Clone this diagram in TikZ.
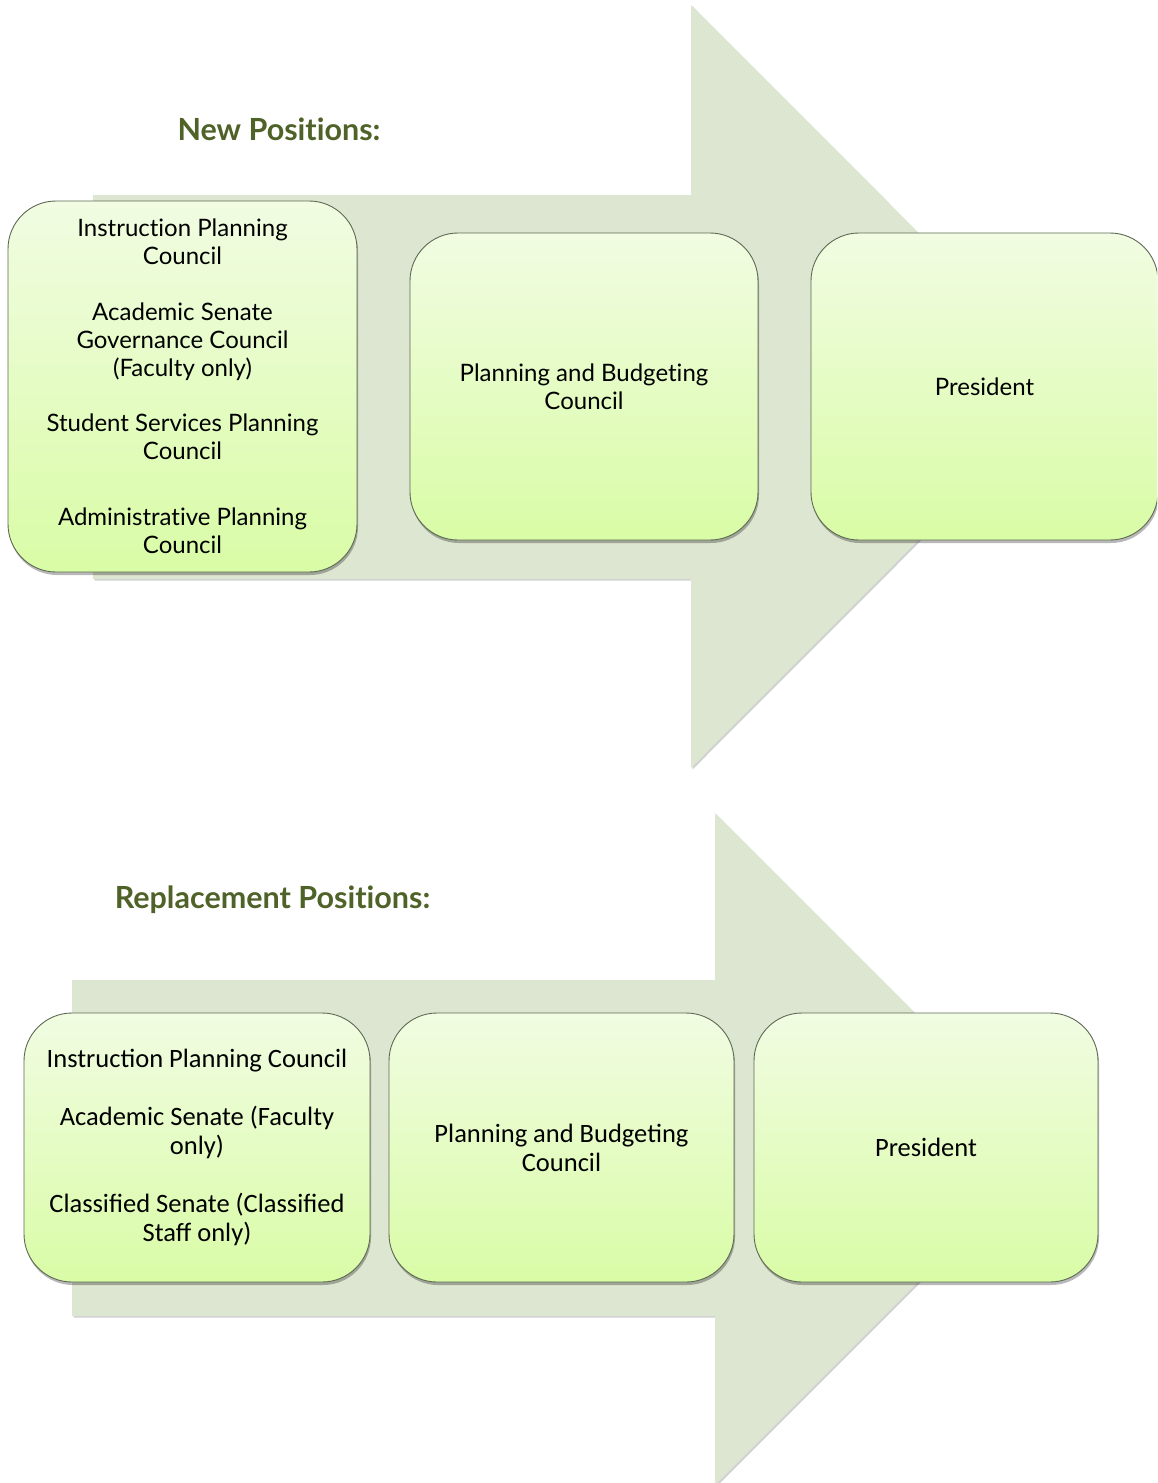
\documentclass[tikz,border=0pt]{standalone}
\usepackage{fontspec}
\setmainfont{Lato}[Ligatures=NoCommon]
\newfontfamily\calib{Carlito}
\usetikzlibrary{shadows}
\definecolor{arrowfill}{RGB}{221,230,208}
\definecolor{boxtop}{RGB}{241,252,226}
\definecolor{boxbot}{RGB}{217,252,166}
\definecolor{boxline}{RGB}{95,105,85}
\definecolor{titlegreen}{RGB}{79,98,40}
\begin{document}
\begin{tikzpicture}[x=1pt,y=-1pt,
  bigarrow/.style={fill=arrowfill, draw=none, drop shadow={shadow xshift=1.5pt, shadow yshift=-1.5pt, opacity=0.18, fill=black}},
  box/.style={draw=boxline, line width=0.9pt, rounded corners=48pt, top color=boxtop, bottom color=boxbot,
    align=center, inner sep=0pt, text=black,
    drop shadow={shadow xshift=1pt, shadow yshift=-3pt, opacity=0.28, fill=black}},
  gill/.style={font=\fontsize{24}{28}\selectfont},
  cal/.style={font=\calib\fontsize{26.5}{29}\selectfont},
  title/.style={text=titlegreen, font=\bfseries\fontsize{30.5}{34}\selectfont, inner sep=0pt}]
\useasboundingbox (0,0) rectangle (1157,1483);
\clip (0,0) rectangle (1157,1483);
\fill[white] (0,0) rectangle (1157,1483);

% ---- upper arrow ----
\path[bigarrow] (93,195) -- (691,195) -- (691,5) -- (1072,386.5) -- (691,768) -- (691,579) -- (93,579) -- cycle;
\node[title] (t1) at (279,129) {New Positions:};
\node[box, gill, minimum width=349pt, minimum height=371pt] (a1) at (182.5,386.5)
  {Instruction Planning\\Council\\[28pt]Academic Senate\\Governance Council\\(Faculty only)\\[27pt]Student Services Planning\\Council\\[38pt]Administrative Planning\\Council};
\node[box, gill, minimum width=348pt, minimum height=307pt] (a2) at (584,386.5) {Planning and Budgeting\\Council};
\node[box, gill, minimum width=347pt, minimum height=307pt] (a3) at (984.5,386.5) {President};

% ---- lower arrow ----
\path[bigarrow] (72,980) -- (715,980) -- (715,813) -- (1051,1149) -- (715,1485) -- (715,1316) -- (72,1316) -- cycle;
\node[title] (t2) at (272.5,900) {Replacement Positions:};
\node[box, cal, minimum width=346pt, minimum height=269pt] (b1) at (197,1147.5)
  {Instruction Planning Council\\[29pt]Academic Senate (Faculty\\only)\\[29pt]Classified Senate (Classified\\Staff only)};
\node[box, cal, minimum width=345pt, minimum height=269pt] (b2) at (561.5,1147.5) {Planning and Budgeting\\Council};
\node[box, cal, minimum width=344pt, minimum height=269pt] (b3) at (926,1147.5) {President};
\end{tikzpicture}
\end{document}
